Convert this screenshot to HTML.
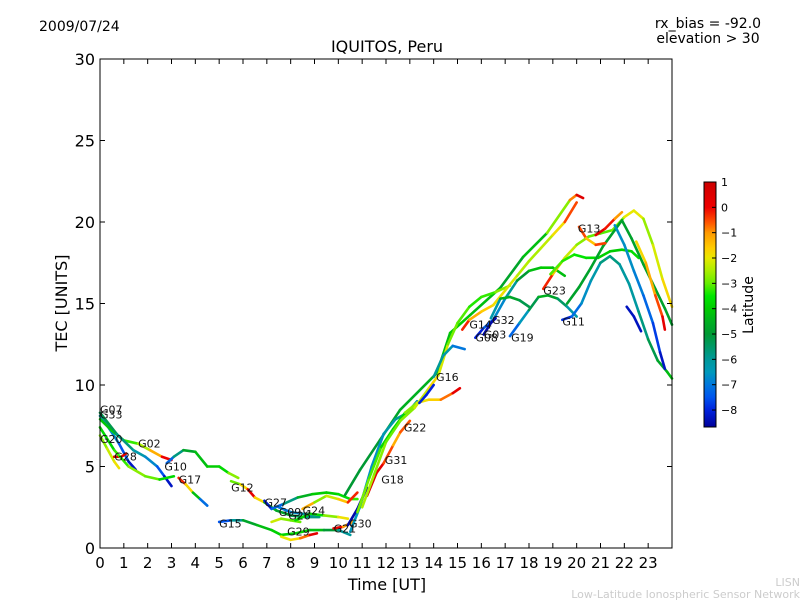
<!DOCTYPE html>
<html><head><meta charset="utf-8"><style>
body{margin:0;background:#fff;}
svg{display:block;font-family:"DejaVu Sans","Liberation Sans",sans-serif;}
</style></head><body>
<svg id="chart" width="800" height="600" viewBox="0 0 800 600">
<rect width="800" height="600" fill="#fff"/>
<text x="39" y="31" font-size="14">2009/07/24</text>
<text x="708" y="28" font-size="14" text-anchor="middle">rx_bias = -92.0</text>
<text x="708" y="43" font-size="14" text-anchor="middle">elevation &gt; 30</text>
<text x="387" y="52" font-size="16" text-anchor="middle">IQUITOS, Peru</text>
<text x="387" y="590" font-size="16" text-anchor="middle">Time [UT]</text>
<text x="0" y="0" font-size="16" text-anchor="middle" transform="translate(67,303) rotate(-90)">TEC [UNITS]</text>
<text x="800" y="586" font-size="11" fill="#ccc" text-anchor="end">LISN</text>
<text x="800" y="598" font-size="11" fill="#ccc" text-anchor="end">Low-Latitude Ionospheric Sensor Network</text>
<defs><linearGradient id="jetg" x1="0" y1="0" x2="0" y2="1"></linearGradient></defs>
<g id="plot"></g>
<g id="axes"></g>
<g id="cbar"></g>
</svg>
<script>
const xTicks=[0,1,2,3,4,5,6,7,8,9,10,11,12,13,14,15,16,17,18,19,20,21,22,23];
const yTicks=[0,5,10,15,20,25,30];
const cbTicks=[1,0,-1,-2,-3,-4,-5,-6,-7,-8];
const latMin=-8.67, latMax=1;
const cmapLat=[1,0,-0.6,-1,-1.6,-2,-2.5,-3,-3.5,-4,-4.5,-5,-5.5,-6,-6.5,-7,-7.5,-8,-8.67];
const cmapCol=["#cc0000","#ee0000","#ff5500","#ff9900","#ffcc00","#e8e800","#aaee00","#66ee00","#00e600","#00cc00","#00b020","#009933","#009966","#009999","#0099bb","#0077dd","#0055ee","#0022dd","#000099"];
const trackTimes=[
[0,0.4,0.8,1.2,1.5],
[0,0.3,0.6,0.8],
[0.6,0.9,1.1],
[0,0.5,1,1.6,2.1,2.6,3.0],
[0,0.7,1.4,1.9,2.4,2.7,3.0],
[0,0.6,1.2,1.9,2.5,3.1],
[3.3,3.6,3.9,4.2,4.5],
[2.8,3.1,3.5,4.0,4.5,5.0,5.4,5.8],
[5.5,5.9,6.2,6.5,6.9,7.4,8.0,8.6,9.2],
[5.0,5.5,6.0,6.6,7.2,7.6,8.2,8.8,9.4,10,10.5],
[7.6,8.0,8.4,8.8,9.1],
[7.2,7.6,8.0,8.4],
[6.9,7.2,7.7,8.3,8.9,9.5,10.0,10.5,10.8],
[7.5,8.0,8.5,9.0],
[8.5,9.0,9.5,10.0,10.4,10.8],
[8.2,8.8,9.4,10.0,10.4],
[9.8,10.2,10.6],
[10.28,10.91,11.75,12.59,14.14,14.69,15.53,16.79,17.75,18.76,19.72,20.0,20.27],
[10.5,10.9,11.4,11.9,12.4,12.9,13.3],
[10.4,10.8,11.2],
[11.2,11.6,11.9,12.3,12.6,13.0],
[10.8,11.3,11.8,12.3,12.8,13.3,13.8,14.3,14.8,15.1],
[11,11.5,12,12.6,13.2,13.8,14.2,14.6,15.0,15.5,16,16.6,17.2],
[14.0,14.4,14.8,15.3],
[13.4,13.7,14.0],
[15.2,15.5,16,16.5,17,17.5,18,18.5,19,19.5,20],
[15.75,16.1,16.5,17.0,17.5,18.0,18.5,19.0,19.5],
[16.1,16.4,16.6],
[16.4,16.8,17.2,17.6,18.0],
[17.2,17.6,18.0,18.4,18.8,19.2,19.6,20.0],
[18.6,19.0,19.5,20.0,20.5,21.0,21.5,22.0,22.4,22.8,23.2,23.6,24],
[18.9,19.4,19.9,20.4,20.9,21.4,21.9,22.3,22.6],
[19.4,19.8,20.2,20.6,21.0,21.4,21.8,22.2,22.6,23.0,23.4,23.8,24],
[19.6,20.1,20.6,21.1,21.6,21.9,22.3,22.8,23.3,23.7,24],
[20.1,20.4,20.8,21.2],
[20.8,21.2,21.6,21.9],
[22.5,22.9,23.3,23.6,23.7],
[21.6,22.0,22.4,22.8,23.2,23.5,23.7],
[22.1,22.4,22.7]
];
const trackTec=[
[8.1,7.3,6.4,5.3,4.8],
[6.9,6.1,5.3,4.9],
[5.6,5.6,5.8],
[7.9,7.2,6.6,6.4,6.0,5.6,5.4],
[8.3,7.0,6.0,5.6,5.0,4.4,3.8],
[7.4,6.0,5.0,4.4,4.2,4.4],
[4.3,3.9,3.4,3.0,2.6],
[5.2,5.6,6.0,5.9,5.0,5.0,4.6,4.3],
[4.1,3.9,3.6,3.1,2.8,2.3,2.0,1.9,1.9],
[1.6,1.7,1.7,1.4,1.1,0.8,0.9,1.1,1.1,1.1,0.8],
[0.7,0.5,0.6,0.8,0.9],
[1.6,1.8,1.7,1.6],
[2.9,2.4,2.7,3.1,3.3,3.4,3.3,3.0,3.0],
[2.5,2.2,2.1,2.0],
[2.4,2.8,3.2,3.0,2.8,3.4],
[1.7,2.1,2.0,1.9,1.8],
[1.2,1.3,1.6],
[3.25,4.79,6.63,8.47,10.74,13.19,14.29,15.95,17.85,19.33,21.35,21.66,21.47],
[1.0,2.5,5.0,7.0,7.9,8.3,9.0],
[1.4,2.4,3.7],
[3.2,4.6,5.2,6.3,7.1,7.8],
[2.2,4.3,6.2,7.3,8.3,8.9,9.1,9.1,9.5,9.8],
[2.5,4.5,6.5,7.8,8.6,9.8,10.6,12.5,13.8,14.8,15.4,15.7,16.1],
[10.5,11.8,12.4,12.2],
[8.9,9.4,10.0],
[13.4,14.0,14.5,14.9,15.8,16.7,17.6,18.4,19.2,20.0,21.2],
[12.9,13.5,14.0,15.3,16.4,17.0,17.2,17.2,16.7],
[13.1,13.8,14.1],
[14.1,15.3,15.4,15.2,14.8],
[13.0,13.8,14.6,15.4,15.5,15.3,14.8,14.2],
[15.9,16.8,17.8,18.6,19.1,19.3,19.5,20.3,20.7,20.2,18.6,16.5,14.8],
[16.8,17.6,18.0,17.8,17.8,18.2,18.3,18.2,17.8],
[14.0,14.2,15.0,16.4,17.5,17.9,17.4,16.2,14.5,12.8,11.5,10.8,10.4],
[15.0,16.0,17.2,18.5,19.5,20.1,19.0,17.4,15.9,14.7,13.7],
[19.7,19.0,18.6,18.7],
[19.2,19.6,20.2,20.6],
[18.8,17.5,15.5,14.2,13.4],
[19.8,18.6,17.0,15.5,13.8,12.0,11.0],
[14.8,14.2,13.3]
];
const trackLat=[
[-5.5,-6.5,-7,-8,-8.5],
[-3,-2.5,-2,-1.8],
[0.5,0.6,0.3],
[-4,-4.2,-3.5,-3,-2,-0.5,0.5],
[-5,-5.5,-6,-6.5,-7,-8,-8.5],
[-4,-3.5,-3,-2.5,-3.5,-4],
[0.5,-1,-2.5,-6,-8.3],
[-8,-6.5,-5,-4.5,-4,-4,-3.5,-2],
[-2.5,-3.5,0,0.5,-4,-4.5,-5,-5.5,-6],
[-8,-7,-5,-4.5,-4,-3.8,-3.8,-4,-4.5,-5.5,-6.5],
[-2,-2,-1.5,0,0.6],
[-2,-2.5,-3,-3],
[-8.3,-8,-6.5,-5,-4,-4,-3.8,-3.5,-3],
[-7,-7,-6.5,-6],
[0.5,-3,-2.5,-2,-1,0.5],
[-3.5,-3.8,-3.5,-2,-1.8],
[0.5,0,-2],
[-5,-5,-5,-4.5,-4.5,-4,-4,-4.5,-5,-3.5,-2,0.3,0.6],
[-6.5,-6.5,-6.8,-6.5,-6,-6,-6],
[-8.5,-8.5,-8.5],
[0.5,0.5,0,-1,-1.5,0.3],
[-3,-2.8,-3.5,-4,-3.5,-2,-1.8,-1.5,0,0.5],
[-2.5,-2.5,-3,-3,-2.5,-2,-1.5,-2.8,-3,-3.2,-3.5,-3,-2.5],
[-6,-6,-6.5,-7.5],
[-8,-8,-8],
[0.5,-1,-1.5,-1.7,-2,-2.3,-2.5,-2.5,-2.2,-1.5,0.5],
[-8.3,-7.8,-7,-6.5,-5.5,-4.5,-4,-4,-4.5],
[-8.5,-8.5,-8.5],
[-8,-4.5,-4.5,-5,-5.5],
[-7.5,-7,-6,-4.5,-4.5,-5,-6,-6.5],
[0.5,-1,-2,-2.5,-3,-3,-3.2,-2.5,-1.5,-2.5,-2.8,-1.5,-2],
[-3,-3.2,-3.5,-3.5,-3.8,-4,-4,-3.8,-3.5],
[-8.3,-7.5,-6.8,-6.5,-6,-5.5,-6,-6.2,-6,-5.5,-5,-4.5,-4],
[-4.8,-4.8,-4.8,-4.8,-4.8,-4.8,-4.8,-4.8,-4.8,-4.8,-4.8],
[0.5,-1.5,-1.5,0.6],
[0.5,0.2,-0.5,-1.5],
[-2,-1.5,-1,0,0.5],
[-6.8,-6.5,-6.8,-7,-7.5,-8,-8.5],
[-8.3,-8.3,-8.3]
];
const prnLabels=["G07","G33","G20","G28","G02","G10","G17","G12","G27","G09","G26","G24","G29","G15","G21","G30","G18","G31","G22","G16","G14","G08","G03","G32","G19","G23","G11","G13"];
const labelTimes=[0,0,0,0.6,1.6,2.7,3.3,5.5,6.9,7.5,7.9,8.5,7.85,5.0,9.8,10.45,11.8,11.95,12.75,14.1,15.5,15.75,16.1,16.45,17.25,18.6,19.4,20.05];
const labelTec=[8.5,8.2,6.7,5.6,6.4,5.0,4.2,3.7,2.8,2.2,2.0,2.3,1.0,1.5,1.2,1.5,4.2,5.4,7.4,10.5,13.7,12.9,13.1,14.0,12.9,15.8,13.9,19.6];

const X0=100,X1=672,Y0=548,Y1=59;
const xs=t=>X0+t*(X1-X0)/24;
const ys=v=>Y0-v*(Y0-Y1)/30;
const NS="http://www.w3.org/2000/svg";
function mk(tag,attrs,parent){const e=document.createElementNS(NS,tag);for(const k in attrs)e.setAttribute(k,attrs[k]);parent.appendChild(e);return e;}
function hex(h){return [1,3,5].map(i=>parseInt(h.substr(i,2),16));}
function cmap(lat){
  if(lat>=cmapLat[0])return cmapCol[0];
  for(let i=0;i<cmapLat.length-1;i++){
    if(lat<=cmapLat[i]&&lat>=cmapLat[i+1]){
      const f=(cmapLat[i]-lat)/(cmapLat[i]-cmapLat[i+1]);
      const a=hex(cmapCol[i]),b=hex(cmapCol[i+1]);
      return `rgb(${a.map((v,k)=>Math.round(v+(b[k]-v)*f)).join(',')})`;
    }
  }
  return cmapCol[cmapCol.length-1];
}
const grad=document.getElementById('jetg');
cmapLat.forEach((v,i)=>{mk('stop',{offset:(latMax-v)/(latMax-latMin),'stop-color':cmapCol[i]},grad);});
const plot=document.getElementById('plot');
trackTimes.forEach((ts,i)=>{
  const g=mk('g',{},plot);
  
  
  for(let j=0;j<ts.length-1;j++){
    const l=mk('line',{x1:xs(ts[j]),y1:ys(trackTec[i][j]),x2:xs(ts[j+1]),y2:ys(trackTec[i][j+1]),stroke:cmap((trackLat[i][j]+trackLat[i][j+1])/2),'stroke-width':2.6,'stroke-linecap':'round'},g);
    
    
  }
});
prnLabels.forEach((s,i)=>{
  const t=mk('text',{x:xs(labelTimes[i]),y:ys(labelTec[i])+4,'font-size':11,fill:'#111'},plot);
  t.textContent=s;
  
  
});
const ax=document.getElementById('axes');
const fr=mk('rect',{x:X0,y:Y1,width:X1-X0,height:Y0-Y1,fill:'none',stroke:'#000','stroke-width':1},ax);


xTicks.forEach(v=>{
  const x=xs(v);
  mk('line',{x1:x,y1:Y0,x2:x,y2:Y0-5,stroke:'#000'},ax);
  mk('line',{x1:x,y1:Y1,x2:x,y2:Y1+5,stroke:'#000'},ax);
  const t=mk('text',{x:x,y:Y0+20,'font-size':15,'text-anchor':'middle'},ax);
  t.textContent=v;
  
  
});
yTicks.forEach(v=>{
  const y=ys(v);
  mk('line',{x1:X0,y1:y,x2:X0+5,y2:y,stroke:'#000'},ax);
  mk('line',{x1:X1,y1:y,x2:X1-5,y2:y,stroke:'#000'},ax);
  const t=mk('text',{x:X0-5,y:y+6,'font-size':16,'text-anchor':'end'},ax);
  t.textContent=v;
  
  
});
const cb=document.getElementById('cbar');
const CB0=182,CB1=427;
const cy=v=>CB0+(latMax-v)*(CB1-CB0)/(latMax-latMin);
const cr=mk('rect',{x:704,y:CB0,width:12,height:CB1-CB0,fill:'url(#jetg)',stroke:'#000','stroke-width':1},cb);


cbTicks.forEach(v=>{
  const y=cy(v);
  mk('line',{x1:712,y1:y,x2:716,y2:y,stroke:'#000'},cb);
  const t=mk('text',{x:721,y:y+4,'font-size':11},cb);
  t.textContent=v<0?'\u2212'+(-v):String(v);
  
  
});
const lt=mk('text',{x:0,y:0,'font-size':14,'text-anchor':'middle',transform:'translate(753,305) rotate(-90)'},cb);
lt.textContent='Latitude';


</script>
</body></html>
